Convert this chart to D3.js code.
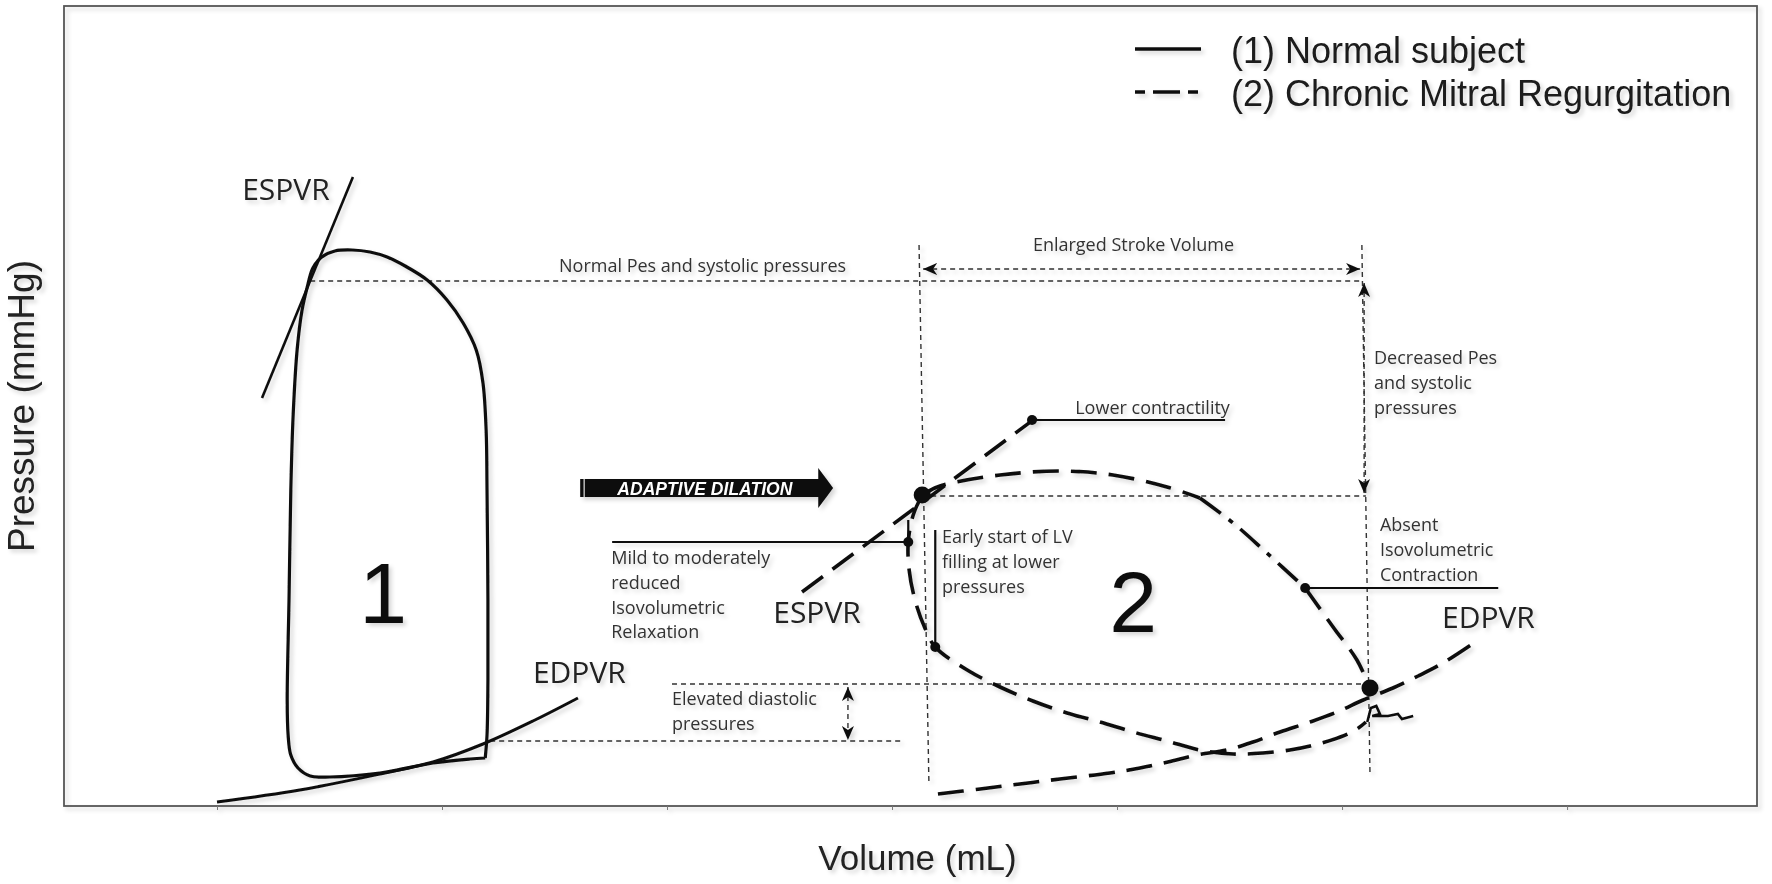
<!DOCTYPE html>
<html>
<head>
<meta charset="utf-8">
<script src="https://cdn.jsdelivr.net/npm/d3@7"></script>
<style>
  body { margin: 0; background: #fff; }
  svg { display: block; }
</style>
</head>
<body>
<svg id="chart"></svg>
<script>
// all values are [volume mL, pressure mmHg]

// (1) normal subject
const normalLoop = [
  [109.6, 9.6], [110.0, 14.2], [110.2, 25.2], [110.2, 41.2], [110.0, 63.2], [109.8, 75.2],
  [109.1, 84.6], [107.6, 91.2], [104.7, 96.6], [101.1, 101.2], [96.7, 105.2], [91.8, 108.0],
  [87.8, 109.8], [84.0, 110.8], [80.0, 111.2], [76.2, 111.0], [73.3, 109.8], [71.3, 107.6],
  [70.0, 103.6], [68.9, 99.2], [67.8, 91.2], [66.9, 77.8], [66.4, 63.2], [66.0, 41.2],
  [65.6, 21.2], [65.8, 14.2], [66.4, 10.2], [68.0, 7.6], [70.7, 6.0], [75.1, 5.8],
  [86.2, 6.6], [98.0, 8.6], [106.2, 9.4], [109.6, 9.6]
];
const normalEspvr = [[80.2, 125.8], [60.0, 81.6]];
const normalEdpvr = [[50.0, 0.8], [68.4, 3.2], [86.2, 6.4], [98.0, 8.8], [109.1, 12.4], [120.2, 17.0], [130.2, 21.6]];

// (2) chronic mitral regurgitation
const mrLoopTop = [[206.7, 62.2], [209.5, 63.6], [212.2, 64.4], [224.0, 66.2], [237.3, 67.0], [249.1, 66.2], [261.1, 63.8], [268.4, 61.6]];
const mrLoopEjection = [[268.4, 61.6], [275.8, 56.6], [283.3, 50.6], [291.8, 43.6]];
const mrLoopEnd = [[291.8, 43.6], [298.0, 35.8], [303.3, 29.2], [306.2, 23.6]];
const mrLoopFilling = [
  [206.7, 62.2], [204.7, 58.2], [203.6, 52.8], [203.8, 47.2], [205.1, 41.2], [207.3, 35.6],
  [209.6, 31.8], [216.7, 27.2], [224.0, 23.8], [231.3, 21.0], [238.9, 18.6], [246.2, 16.8],
  [253.6, 14.8], [261.1, 13.0], [268.4, 11.2], [275.8, 10.4], [282.4, 10.6], [288.4, 11.2],
  [292.9, 12.0], [299.6, 13.8], [303.3, 15.4], [305.3, 16.8]
];
const mrSquiggle = [[305.6, 16.8], [306.4, 19.6], [307.6, 20.0], [308.4, 18.4], [306.7, 18.0], [310.2, 18.0], [312.4, 18.4], [313.3, 17.4], [315.8, 18.0]];
const mrEspvr = [[180.0, 42.8], [234.0, 79.0]];
const mrEdpvr = [
  [210.2, 2.4], [219.6, 3.4], [228.4, 4.4], [237.3, 5.4], [248.4, 6.6], [255.1, 7.6],
  [261.3, 8.8], [267.8, 10.2], [274.4, 11.2], [280.2, 12.8], [286.2, 14.8], [292.9, 16.8],
  [298.9, 18.8], [304.7, 21.2], [311.3, 23.6], [316.9, 26.0], [322.4, 28.6], [328.9, 32.4]
];
const bigDots = [[206.7, 62.2], [306.2, 23.6]];
const smallDots = [[203.6, 52.8], [209.6, 31.8], [231.1, 77.2], [291.8, 43.6]];

// reference pressures / volumes
const pesNormal = 105.0, pesMR = 62.0, edpNormal = 13.0, edpMR = 24.4;
const guideLines = [
  [[70.7, pesNormal], [304.4, pesNormal]],
  [[206.0, 112.2], [208.2, 4.2]],
  [[304.4, 112.2], [306.2, 6.6]],
  [[206.7, pesMR], [305.3, pesMR]],
  [[151.1, edpMR], [306.2, edpMR]],
  [[110.7, edpNormal], [202.4, edpNormal]]
];
const guideArrows = [
  [[206.9, 107.4], [304.0, 107.4]],
  [[304.9, 104.6], [304.9, 62.6]],
  [[190.2, 23.8], [190.2, 13.2]]
];
const leaders = [
  [[137.8, 52.8], [203.6, 52.8]], [[203.6, 57.2], [203.6, 52.8]],
  [[209.6, 55.2], [209.6, 31.8]],
  [[231.1, 77.2], [274.0, 77.2]],
  [[291.8, 43.6], [334.7, 43.6]]
];

const curveLabels = [
  { t: "ESPVR", v: 55.6, p: 121.2 }, { t: "EDPVR", v: 120.2, p: 24.6 },
  { t: "ESPVR", v: 173.6, p: 36.6 }, { t: "EDPVR", v: 322.2, p: 35.6 }
];
const loopLabels = [{ t: "1", v: 86.9, p: 36.6 }, { t: "2", v: 253.6, p: 34.8 }];
const notes = [
  { lines: ["Normal Pes and systolic pressures"], v: 126.0, p: 106.8 },
  { lines: ["Enlarged Stroke Volume"], v: 231.3, p: 111.0 },
  { lines: ["Decreased Pes", "and systolic", "pressures"], v: 307.1, p: 88.4 },
  { lines: ["Lower contractility"], v: 240.7, p: 78.4 },
  { lines: ["Absent", "Isovolumetric", "Contraction"], v: 308.4, p: 55.0 },
  { lines: ["Early start of LV", "filling at lower", "pressures"], v: 211.1, p: 52.6 },
  { lines: ["Mild to moderately", "reduced", "Isovolumetric", "Relaxation"], v: 137.6, p: 48.4 },
  { lines: ["Elevated diastolic", "pressures"], v: 151.1, p: 20.2 }
];
const legendItems = ["(1) Normal subject", "(2) Chronic Mitral Regurgitation"];
const volumeTicks = [50, 100, 150, 200, 250, 300, 350];

const width = 1772, height = 884;
const svg = d3.select("#chart").attr("width", width).attr("height", height);

const x = d3.scaleLinear().domain([16, 392.2]).range([64, 1757]);
const y = d3.scaleLinear().domain([0, 160]).range([806, 6]);

const straight = d3.line().x(d => x(d[0])).y(d => y(d[1]));
const smooth = d3.line().curve(d3.curveCatmullRom.alpha(0.5)).x(d => x(d[0])).y(d => y(d[1]));

const annFont = "'Open Sans', 'DejaVu Sans', sans-serif";
const axisFont = "'Liberation Sans', Arial, sans-serif";

const defs = svg.append("defs");
// arrow head
defs.append("marker")
  .attr("id", "head")
  .attr("viewBox", "0 -6 14 12")
  .attr("refX", 14).attr("refY", 0)
  .attr("markerWidth", 14).attr("markerHeight", 12)
  .attr("markerUnits", "userSpaceOnUse")
  .attr("orient", "auto-start-reverse")
  .append("path").attr("d", "M0,-6L14,0L0,6L4,0Z").attr("fill", "#111");
// soft shadow like the scanned figure
defs.append("filter").attr("id", "soft")
  .attr("x", "-5%").attr("y", "-5%").attr("width", "110%").attr("height", "110%")
  .append("feDropShadow")
  .attr("dx", 3).attr("dy", 3).attr("stdDeviation", 2)
  .attr("flood-color", "#000").attr("flood-opacity", 0.16);

const g = svg.append("g").attr("filter", "url(#soft)");

// frame + ticks
g.append("rect")
  .attr("x", x.range()[0]).attr("y", y.range()[1])
  .attr("width", x.range()[1] - x.range()[0]).attr("height", y.range()[0] - y.range()[1])
  .attr("fill", "none").attr("stroke", "#555").attr("stroke-width", 1.8);

const ax = g.append("g").attr("transform", "translate(0," + y(0) + ")")
  .call(d3.axisBottom(x).tickValues(volumeTicks).tickSize(4).tickFormat(""));
ax.select(".domain").remove();
ax.selectAll("line").attr("stroke", "#777");

g.append("text")
  .attr("x", (x.range()[0] + x.range()[1]) / 2 + 7).attr("y", 870)
  .attr("text-anchor", "middle")
  .attr("font-family", axisFont).attr("font-size", 35).attr("fill", "#222")
  .text("Volume (mL)");
g.append("text")
  .attr("transform", "translate(34," + y(80) + ") rotate(-90)")
  .attr("text-anchor", "middle")
  .attr("font-family", axisFont).attr("font-size", 37).attr("fill", "#222")
  .text("Pressure (mmHg)");

// thin dashed guides
const guides = g.append("g").attr("fill", "none").attr("stroke", "#333")
  .attr("stroke-width", 1.4).attr("stroke-dasharray", "5,4");
guides.selectAll("path.g").data(guideLines).enter().append("path")
  .attr("d", straight);
guides.selectAll("path.a").data(guideArrows).enter().append("path")
  .attr("d", straight)
  .attr("marker-start", "url(#head)").attr("marker-end", "url(#head)");

// normal subject (solid)
g.append("path").datum(normalLoop).attr("d", smooth)
  .attr("fill", "none").attr("stroke", "#111").attr("stroke-width", 3.2);
g.append("path").datum(normalEspvr).attr("d", straight)
  .attr("fill", "none").attr("stroke", "#111").attr("stroke-width", 2.6);
g.append("path").datum(normalEdpvr).attr("d", smooth)
  .attr("fill", "none").attr("stroke", "#111").attr("stroke-width", 3);

// mitral regurgitation (dashed)
const mr = g.append("g").attr("fill", "none").attr("stroke", "#111").attr("stroke-width", 3.6);
[mrLoopTop, mrLoopEnd, mrLoopFilling, mrEdpvr].forEach(pts => {
  mr.append("path").datum(pts).attr("d", smooth).attr("stroke-dasharray", "26,12");
});
mr.append("path").datum(mrLoopEjection).attr("d", smooth).attr("stroke-dasharray", "26,10,5,10");
mr.append("path").datum(mrEspvr).attr("d", straight).attr("stroke-dasharray", "26,12");
mr.append("path").datum(mrSquiggle).attr("d", straight).attr("stroke-width", 2.6);

// leader lines and dots
g.append("g").selectAll("path").data(leaders).enter().append("path")
  .attr("d", straight).attr("fill", "none").attr("stroke", "#111").attr("stroke-width", 2.2);
g.append("g").selectAll("circle").data(bigDots).enter().append("circle")
  .attr("cx", d => x(d[0])).attr("cy", d => y(d[1])).attr("r", 8.5).attr("fill", "#111");
g.append("g").selectAll("circle").data(smallDots).enter().append("circle")
  .attr("cx", d => x(d[0])).attr("cy", d => y(d[1])).attr("r", 5).attr("fill", "#111");

// adaptive dilation arrow
const body = { v0: 130.7, v1: 183.6, tip: 186.9, top: 65.4, bot: 61.8, headTop: 67.6, headBot: 59.6 };
const mid = (body.top + body.bot) / 2;
g.append("path")
  .attr("d", d3.line()([
    [x(body.v0), y(body.top)], [x(body.v1), y(body.top)], [x(body.v1), y(body.headTop)],
    [x(body.tip), y(mid)], [x(body.v1), y(body.headBot)], [x(body.v1), y(body.bot)],
    [x(body.v0), y(body.bot)]
  ]) + "Z")
  .attr("fill", "#0a0a0a");
g.append("line")
  .attr("x1", x(body.v0) + 4).attr("x2", x(body.v0) + 4)
  .attr("y1", y(body.top)).attr("y2", y(body.bot))
  .attr("stroke", "#bbb").attr("stroke-width", 1.5);
g.append("text")
  .attr("x", x(158.4)).attr("y", y(62.2))
  .attr("text-anchor", "middle")
  .attr("font-family", axisFont).attr("font-size", 18)
  .attr("font-weight", "bold").attr("font-style", "italic")
  .attr("textLength", 175).attr("lengthAdjust", "spacingAndGlyphs")
  .attr("fill", "#fff")
  .text("ADAPTIVE DILATION");

// curve labels
g.append("g").selectAll("text").data(curveLabels).enter().append("text")
  .attr("x", d => x(d.v)).attr("y", d => y(d.p))
  .attr("font-family", annFont).attr("font-size", 30).attr("fill", "#222")
  .text(d => d.t);
g.append("g").selectAll("text").data(loopLabels).enter().append("text")
  .attr("x", d => x(d.v)).attr("y", d => y(d.p))
  .attr("text-anchor", "middle")
  .attr("font-family", axisFont).attr("font-size", 86).attr("fill", "#111")
  .text(d => d.t);

// notes
const nt = g.append("g").selectAll("text").data(notes).enter().append("text")
  .attr("x", d => x(d.v)).attr("y", d => y(d.p))
  .attr("font-family", annFont).attr("font-size", 18).attr("fill", "#333");
nt.selectAll("tspan").data(d => d.lines.map(l => ({ l: l, v: d.v }))).enter().append("tspan")
  .attr("x", d => x(d.v)).attr("dy", (d, i) => i === 0 ? 0 : 24.8)
  .text(d => d.l);

// legend
const lg = g.append("g").attr("transform", "translate(1135,0)");
legendItems.forEach((t, i) => {
  const ly = 49 + i * 43;
  lg.append("line").attr("x1", 0).attr("x2", 66).attr("y1", ly).attr("y2", ly)
    .attr("stroke", "#111").attr("stroke-width", 3.5)
    .attr("stroke-dasharray", i === 0 ? null : "10,8,27,8,10");
  lg.append("text").attr("x", 96).attr("y", ly + 14)
    .attr("font-family", axisFont).attr("font-size", 36).attr("fill", "#1a1a1a")
    .text(t);
});
</script>
</body>
</html>
